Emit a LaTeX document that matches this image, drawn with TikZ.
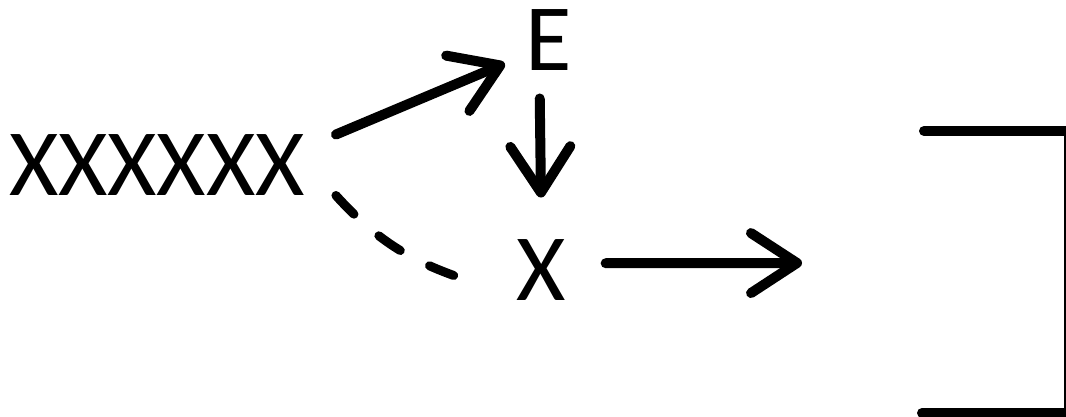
\documentclass[tikz,border=0pt]{standalone}
\usepackage{fontspec}
\setmainfont{Carlito}
\usetikzlibrary{arrows.meta}

\begin{document}
\begin{tikzpicture}[x=1pt,y=1pt,
  lbl/.style={inner sep=0pt,font=\fontsize{95}{100}\selectfont},
  arr/.style={line width=10pt,line cap=round,-{Straight Barb[length=46pt,width=60pt,round]}},
  dsh/.style={line width=9pt,line cap=round,dash pattern=on 26pt off 33pt}]
  \useasboundingbox[fill=white] (0,0) rectangle (1066,-417);

  % labels
  \node[lbl,outer xsep=31pt,outer ysep=0pt] (xs) at (157,-165) {XXXXXX};
  \node[lbl,outer xsep=21pt,outer ysep=28pt] (e) at (549,-40) {E};
  \node[lbl,outer xsep=40pt,outer ysep=42pt] (x) at (541,-270) {X};
  \coordinate (tip) at (802,-263);

  % arrows
  \draw[arr] (xs.north east) -- (e.208);
  \draw[arr] (e.261) -- (x.north);
  \draw[arr] (x.6) -- (tip);
  \draw[dsh,shorten >=23pt] (xs.south east) to[out=-48,in=160] (x.192);

  % bracket
  \draw[line width=10pt,line cap=round] (924,-131) -- (1066,-131);
  \draw[line width=1.8pt] (1065,-131) -- (1065,-413);
  \draw[line width=10pt,line cap=round] (922,-413) -- (1066,-413);
\end{tikzpicture}
\end{document}
